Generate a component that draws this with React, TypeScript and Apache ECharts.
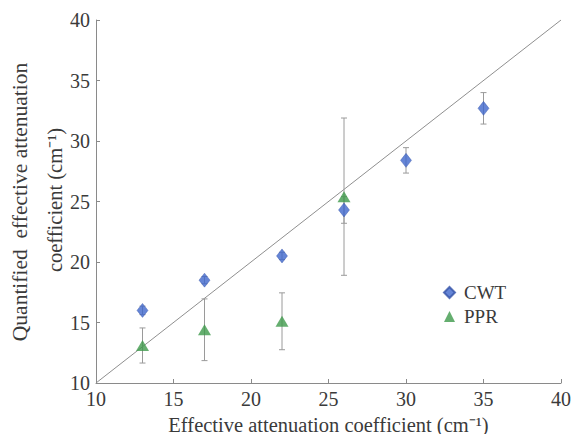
import React, { useEffect, useRef } from "react";
import * as echarts from "echarts";

const cwtX = [13, 17, 22, 26, 30, 35];
const cwtY = [16.0, 18.5, 20.5, 24.3, 28.4, 32.7];
const cwtErr = [0.35, 0.3, 0.3, 1.1, 1.05, 1.3];
const pprX = [13, 17, 22, 26];
const pprY = [13.1, 14.4, 15.1, 25.4];
const pprErr = [1.45, 2.55, 2.35, 6.5];
const refLine = [10, 40];
const xTitle = "Effective attenuation coefficient (cm⁻¹)";
const yTitle1 = "Quantified  effective attenuation";
const yTitle2 = "coefficient (cm⁻¹)";

const FONT = "'Liberation Serif', 'Times New Roman', serif";
const TEXT = "#3a3a3a";

export default function App() {
  const ref = useRef<HTMLDivElement>(null);
  useEffect(() => {
    const chart = echarts.init(ref.current!, null, { renderer: "svg" });
    const errData = [
      ...cwtX.map((x, i) => [x, cwtY[i] - cwtErr[i], cwtY[i] + cwtErr[i]]),
      ...pprX.map((x, i) => [x, pprY[i] - pprErr[i], pprY[i] + pprErr[i]]),
    ];
    const renderItem = (params: any, api: any) => {
      const x = api.value(0);
      const p1 = api.coord([x, api.value(2)]);
      const p2 = api.coord([x, api.value(1)]);
      const w = 3;
      const st = { stroke: "#9a9a9a", lineWidth: 1 };
      return {
        type: "group",
        children: [
          { type: "line", shape: { x1: p1[0], y1: p1[1], x2: p2[0], y2: p2[1] }, style: st },
          { type: "line", shape: { x1: p1[0] - w, y1: p1[1], x2: p1[0] + w, y2: p1[1] }, style: st },
          { type: "line", shape: { x1: p2[0] - w, y1: p2[1], x2: p2[0] + w, y2: p2[1] }, style: st },
        ],
      };
    };
    const axisCommon = {
      type: "value",
      min: 10,
      max: 40,
      interval: 5,
      axisLine: { show: true, lineStyle: { color: "#8a8a8a", width: 1 } },
      axisTick: { show: true, inside: true, length: 4, lineStyle: { color: "#8a8a8a" } },
      splitLine: { show: false },
      axisLabel: { fontFamily: FONT, fontSize: 20, color: TEXT },
    };
    chart.setOption({
      animation: false,
      textStyle: { fontFamily: FONT },
      grid: { left: 96, right: 12, top: 20, bottom: 51, outerBoundsMode: "none", containLabel: false },
      xAxis: {
        ...axisCommon,
        axisLabel: { ...axisCommon.axisLabel, margin: 6 },
        name: xTitle,
        nameLocation: "middle",
        nameGap: 31,
        nameTextStyle: { fontFamily: FONT, fontSize: 20.5, color: TEXT },
      },
      yAxis: {
        ...axisCommon,
        axisLabel: { ...axisCommon.axisLabel, margin: 6 },
      },
      legend: {
        orient: "vertical",
        left: 438,
        top: 278,
        itemWidth: 11,
        itemHeight: 11,
        itemGap: 5,
        data: ["CWT", "PPR"],
        textStyle: { fontFamily: FONT, fontSize: 19, color: TEXT, padding: [0, 0, 0, 4] },
      },
      graphic: [
        {
          type: "text",
          x: 20,
          y: 202,
          rotation: Math.PI / 2,
          style: { text: yTitle1, font: `21.5px ${FONT}`, fill: TEXT, align: "center", verticalAlign: "middle" },
        },
        {
          type: "text",
          x: 55,
          y: 200,
          rotation: Math.PI / 2,
          style: { text: yTitle2, font: `20.5px ${FONT}`, fill: TEXT, align: "center", verticalAlign: "middle" },
        },
      ],
      series: [
        {
          type: "line",
          data: refLine.map((v) => [v, v]),
          symbol: "none",
          lineStyle: { color: "#8f8f8f", width: 1 },
          z: 1,
          silent: true,
        },
        {
          type: "custom",
          data: errData,
          renderItem,
          encode: { x: 0, y: [1, 2] },
          z: 2,
          silent: true,
        },
        {
          name: "CWT",
          type: "scatter",
          data: cwtX.map((x, i) => [x, cwtY[i]]),
          symbol: "diamond",
          symbolSize: [11, 14],
          itemStyle: { color: "#3f67cc", borderColor: "#3553a8", borderWidth: 0.5 },
          z: 3,
        },
        {
          name: "PPR",
          type: "scatter",
          data: pprX.map((x, i) => [x, pprY[i]]),
          symbol: "triangle",
          symbolSize: [13, 11],
          itemStyle: { color: "#3f9a4b" },
          z: 4,
        },
      ],
    });
    return () => chart.dispose();
  }, []);
  return <div ref={ref} style={{ width: 573, height: 434, position: "absolute", left: 0, top: 0 }} />;
}
